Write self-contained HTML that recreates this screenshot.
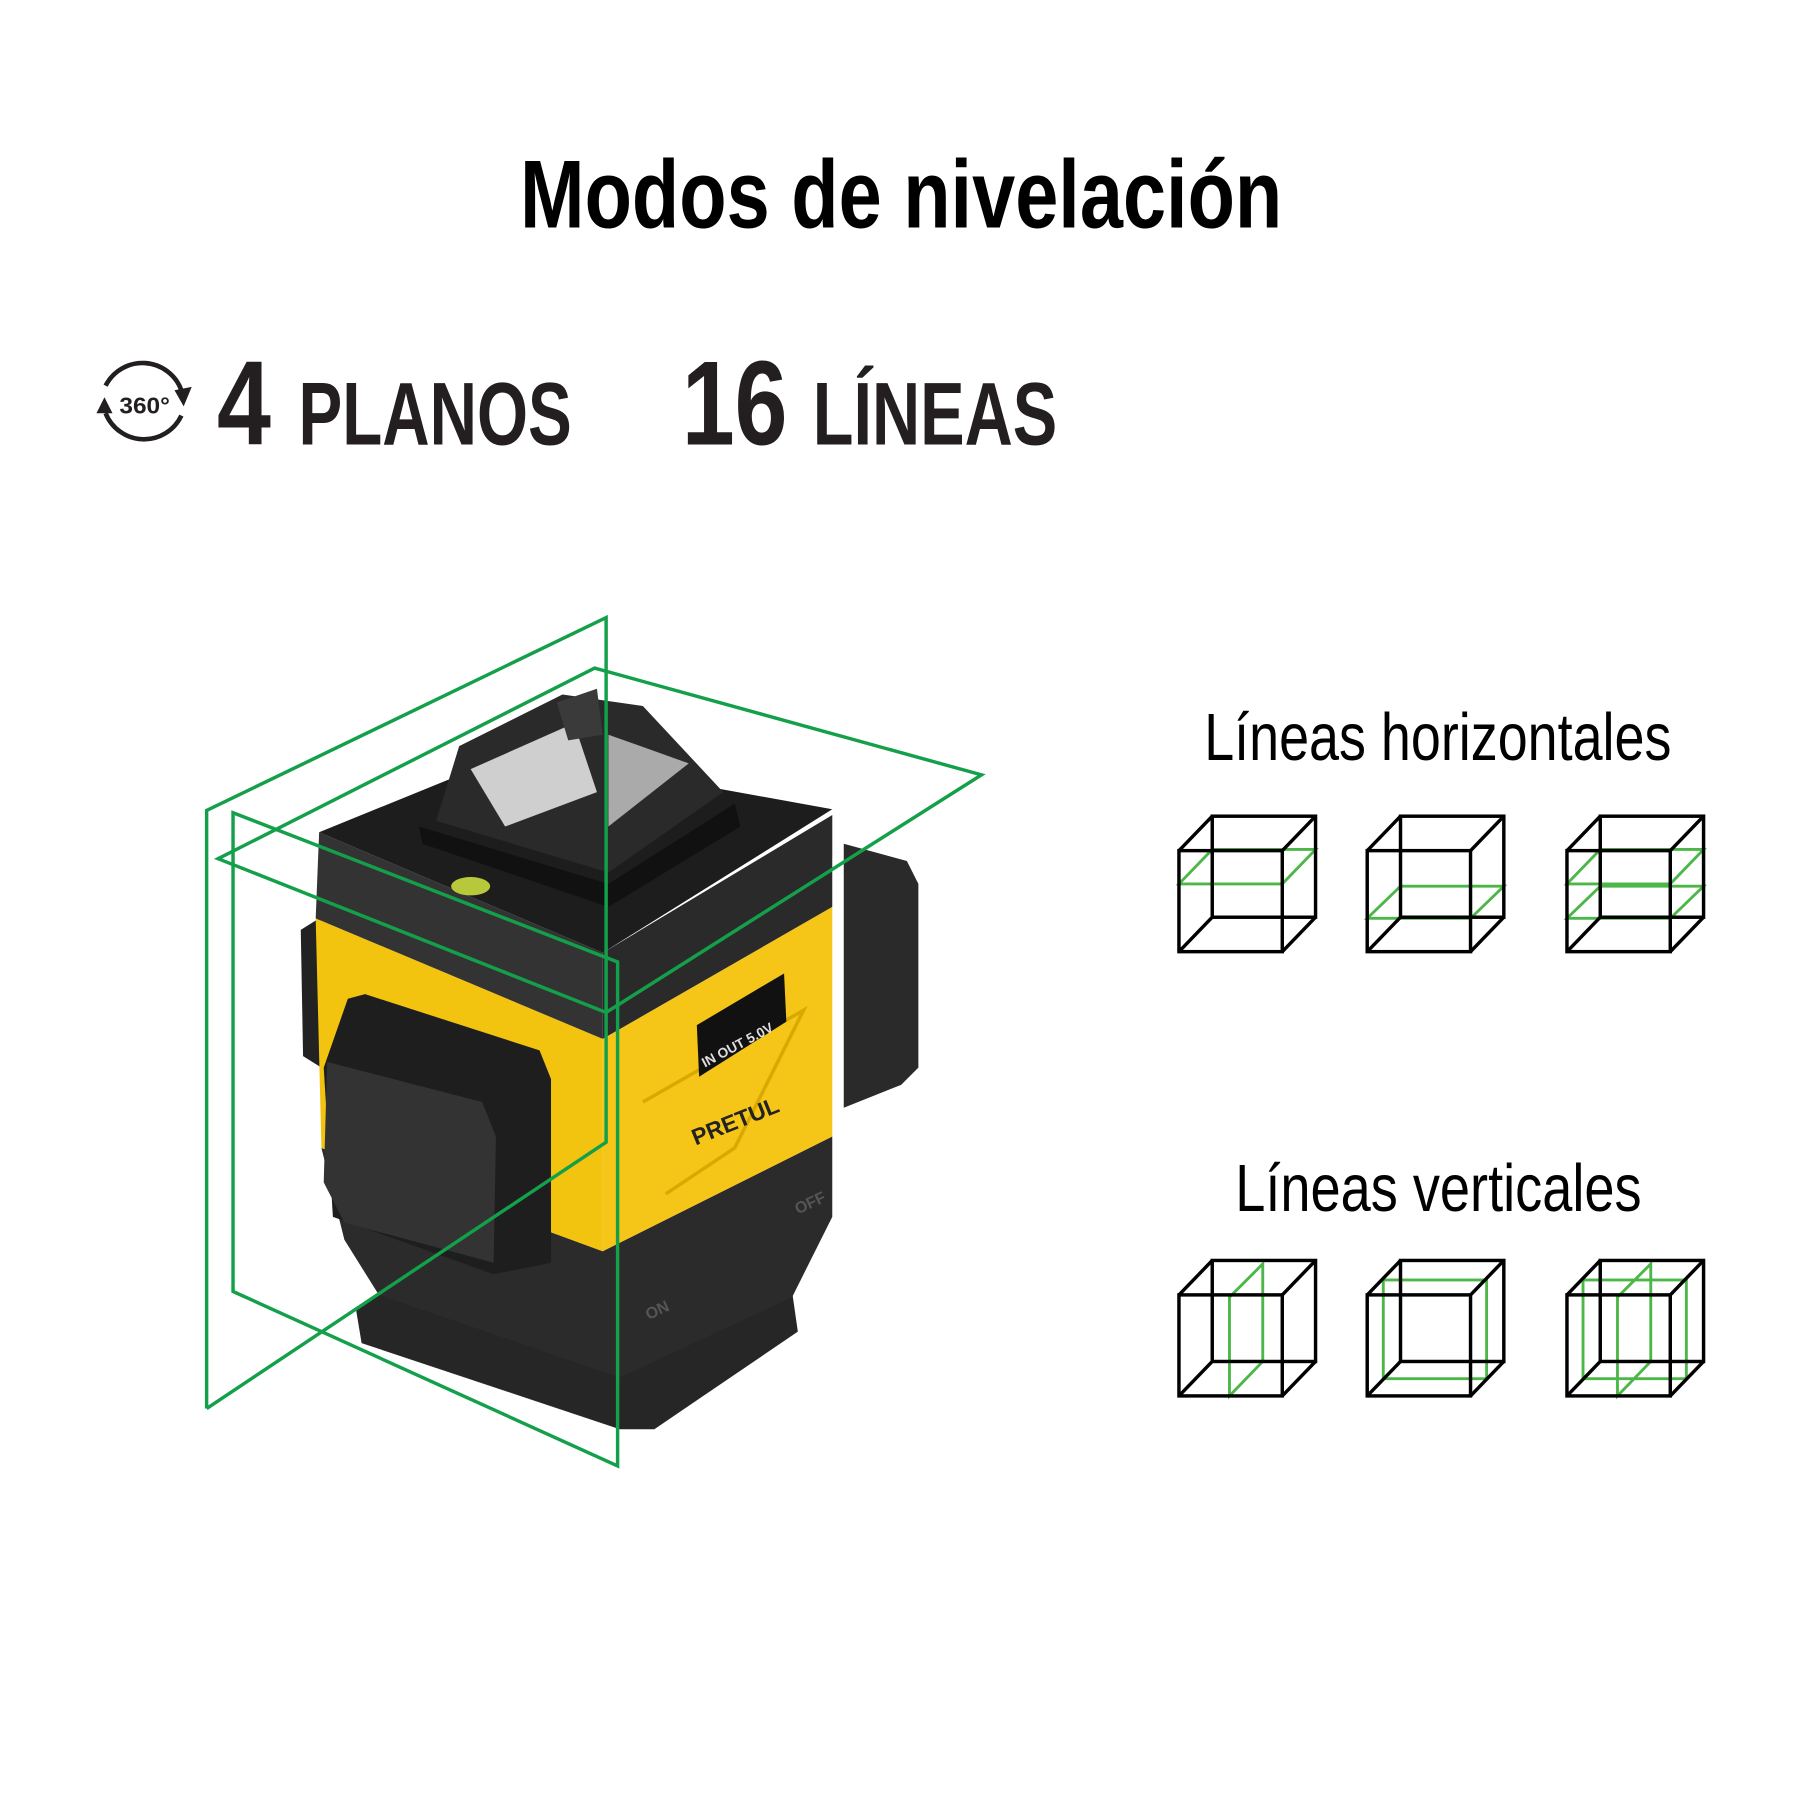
<!DOCTYPE html>
<html><head><meta charset="utf-8"><style>
html,body{margin:0;padding:0;background:#fff}
svg{display:block}
text{font-family:"Liberation Sans",sans-serif;font-weight:bold}
</style></head><body>
<svg width="1800" height="1800" viewBox="0 0 1568 1568" xmlns="http://www.w3.org/2000/svg">
<rect width="1568" height="1568" fill="#fff"/>
<text x="453" y="198" font-size="84" textLength="664" lengthAdjust="spacingAndGlyphs" fill="#000">Modos de nivelación</text>
<!-- 360 icon -->
<g fill="none" stroke="#231f20" stroke-width="4">
<path d="M92 336 A36 36 0 0 1 158 340"/>
<path d="M158 362 A36 36 0 0 1 92 360"/>
</g>
<polygon points="152,340 167,337 160,354" fill="#231f20"/>
<polygon points="84,360 98,360 91,346" fill="#231f20"/>
<text x="104" y="360" font-size="20" textLength="44" lengthAdjust="spacingAndGlyphs" fill="#231f20">360°</text>
<text x="189" y="387" font-size="104" textLength="47" lengthAdjust="spacingAndGlyphs" fill="#231f20">4</text>
<text x="260" y="387" font-size="78" textLength="238" lengthAdjust="spacingAndGlyphs" fill="#231f20">PLANOS</text>
<text x="594" y="387" font-size="104" textLength="92" lengthAdjust="spacingAndGlyphs" fill="#231f20">16</text>
<text x="708" y="387" font-size="78" textLength="213" lengthAdjust="spacingAndGlyphs" fill="#231f20">LÍNEAS</text>

<text x="1049" y="662" font-size="58" style="font-weight:normal" textLength="407" lengthAdjust="spacingAndGlyphs" fill="#000">Líneas horizontales</text>
<text x="1076" y="1055" font-size="58" style="font-weight:normal" textLength="354" lengthAdjust="spacingAndGlyphs" fill="#000">Líneas verticales</text>

<defs>
<g id="cube" fill="none" stroke="#000" stroke-width="3">
<rect x="0" y="30" width="90" height="88"/>
<rect x="29" y="0" width="90" height="88"/>
<line x1="0" y1="30" x2="29" y2="0"/><line x1="90" y1="30" x2="119" y2="0"/>
<line x1="0" y1="118" x2="29" y2="88"/><line x1="90" y1="118" x2="119" y2="88"/>
</g>
</defs>
<g stroke="#4cb748" stroke-width="2.5" fill="none">
<polygon points="1027,770 1117,770 1146,740 1056,740"/>
<polygon points="1191,800 1281,800 1310,772 1220,772"/>
<polygon points="1365,770 1455,770 1484,740 1394,740"/>
<polygon points="1365,800 1455,800 1484,772 1394,772"/>
<polygon points="1071,1130 1100,1101 1100,1186 1071,1216"/>
<rect x="1205" y="1115" width="90" height="86"/>
<polygon points="1409,1130 1438,1101 1438,1186 1409,1216"/>
<rect x="1379" y="1115" width="90" height="86"/>
</g>
<use href="#cube" x="1027" y="711"/>
<use href="#cube" x="1191" y="711"/>
<use href="#cube" x="1365" y="711"/>
<use href="#cube" x="1027" y="1098"/>
<use href="#cube" x="1191" y="1098"/>
<use href="#cube" x="1365" y="1098"/>

<g>
<polygon points="310,1140 350,1115 540,1195 690,1125 695,1160 570,1245 540,1245 315,1170" fill="#262626"/>
<polygon points="280,1000 525,1090 725,990 725,1060 690,1130 540,1200 330,1128 300,1080" fill="#2b2b2b"/>
<polygon points="735,735 790,750 800,770 800,930 785,945 735,965" fill="#2a2a2a"/>
<polygon points="262,810 278,800 280,930 264,920" fill="#222"/>
<polygon points="275,800 525,905 525,1090 280,1000" fill="#f2c40f"/>
<polygon points="525,905 725,790 725,990 525,1090" fill="#f5c518"/>
<polyline points="560,960 700,880 640,1000 580,1040" fill="none" stroke="#d9a900" stroke-width="3"/>
<polygon points="278,725 525,830 525,905 275,800" fill="#333"/>
<polygon points="525,830 725,710 725,790 525,905" fill="#2a2a2a"/>
<polygon points="278,725 450,655 725,705 525,830" fill="#1d1d1d"/>
<polygon points="400,650 490,605 560,615 630,690 530,760 380,715" fill="#2a2a2a"/>
<polygon points="410,670 500,630 520,690 440,720" fill="#cfcfcf"/>
<polygon points="530,640 600,665 530,720" fill="#aaa"/>
<polygon points="485,612 520,600 525,640 495,645" fill="#3a3a3a"/>
<polygon points="365,720 530,770 640,700 645,720 530,790 368,735" fill="#111"/>
<ellipse cx="410" cy="772" rx="17" ry="8" fill="#b7c83a"/>
<polygon points="303,870 318,866 470,915 480,940 480,1100 430,1110 290,1060 282,930" fill="#1e1e1e"/>
<polygon points="285,925 420,960 432,990 430,1100 300,1065 282,1030" fill="#333"/>
<polygon points="607,893 683,848 685,890 609,938" fill="#111"/>
<text x="614" y="930" font-size="12" fill="#ddd" transform="rotate(-28 614 930)">IN OUT 5.0V</text>
<text x="606" y="998" font-size="20" fill="#222" transform="rotate(-22 606 998)">PRETUL</text>
<text x="565" y="1150" font-size="14" fill="#555" transform="rotate(-25 565 1150)">ON</text>
<text x="695" y="1058" font-size="14" fill="#555" transform="rotate(-25 695 1058)">OFF</text>
</g>

<g fill="none" stroke="#14a04a" stroke-width="3">
<polyline points="180,1227 180,706 528,538 528,995 180,1227"/>
<polygon points="203,708 538,838 538,1277 203,1125"/>
<polygon points="190,748 518,582 855,675 528,882"/>
</g>
</svg>
</body></html>
